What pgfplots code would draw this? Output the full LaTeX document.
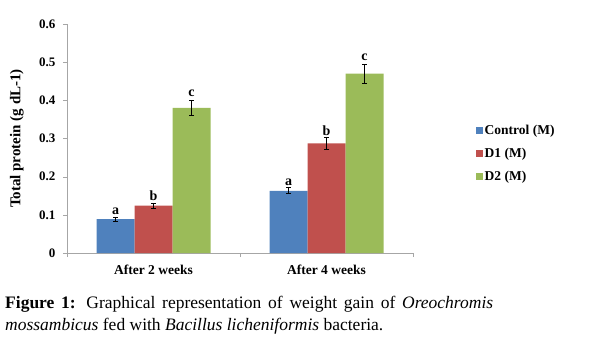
\documentclass[border=0pt]{standalone}
\usepackage{fontspec}
\setmainfont{Liberation Serif}
\usepackage{pgfplots}
\pgfplotsset{compat=1.18}
\definecolor{cblue}{HTML}{4F81BD}
\definecolor{cred}{HTML}{C0504D}
\definecolor{cgreen}{HTML}{9BBB59}
\definecolor{axgray}{HTML}{A6A6A6}
\begin{document}
\begin{tikzpicture}[x=1pt,y=1pt]
\useasboundingbox (0,0) rectangle (610,357);
\begin{axis}[
  at={(67pt,104pt)}, anchor=south west,
  scale only axis, width=346pt, height=229pt,
  xmin=-0.5, xmax=1.5, ymin=0, ymax=0.6,
  ybar, bar width=38pt,
  axis x line*=bottom, axis y line*=left,
  axis line style={axgray},
  xtick={0,1}, xticklabels={After 2 weeks, After 4 weeks},
  major x tick style={draw=none},
  minor xtick={-0.5,0.5,1.5},
  minor x tick style={axgray},
  ytick={0,0.1,0.2,0.3,0.4,0.5,0.6},
  yticklabels={0,0.1,0.2,0.3,0.4,0.5,0.6},
  ytick style={axgray},
  tick align=outside, major tick length=4pt, minor tick length=4pt,
  ytick pos=left,
  yticklabel style={xshift=-4pt, font=\fontsize{13}{15}\selectfont\bfseries},
  xticklabel style={yshift=-4pt, font=\fontsize{13.5}{15}\selectfont\bfseries},
  ylabel={Total protein (g dL-1)},
  ylabel style={at={(axis description cs:-0.145,0.5)}, anchor=center, font=\fontsize{15}{17}\selectfont\bfseries},
  legend style={at={(axis description cs:1.182,0.567)}, anchor=north west, draw=none, fill=none,
    font=\fontsize{13.5}{15}\selectfont\bfseries, row sep=8pt, inner sep=0pt,
    /tikz/every even column/.append style={column sep=0pt}},
  legend cell align=left,
  legend image code/.code={\fill[#1] (0pt,-3pt) rectangle (6.5pt,3.5pt);},
  error bars/y dir=both, error bars/y explicit,
  error bars/error bar style={black, line width=0.8pt},
  error bars/error mark options={rotate=90, mark size=2.5pt, black, line width=0.8pt},
]
\addplot[fill=cblue, draw=none, bar shift=-38pt] coordinates {(0,0.089) +- (0,0.005) (1,0.163) +- (0,0.008)};
\addlegendentry{Control (M)}
\addplot[fill=cred, draw=none, bar shift=0pt] coordinates {(0,0.124) +- (0,0.007) (1,0.287) +- (0,0.015)};
\addlegendentry{D1 (M)}
\addplot[fill=cgreen, draw=none, bar shift=38pt] coordinates {(0,0.380) +- (0,0.020) (1,0.470) +- (0,0.025)};
\addlegendentry{D2 (M)}
\begin{scope}[every node/.style={font=\fontsize{14}{16}\selectfont\bfseries, anchor=south, inner sep=0pt}]
\node[xshift=-38pt] at (axis cs:0,0.099) {a};
\node at (axis cs:0,0.136) {b};
\node[xshift=38pt] at (axis cs:0,0.408) {c};
\node[xshift=-38pt] at (axis cs:1,0.176) {a};
\node at (axis cs:1,0.308) {b};
\node[xshift=38pt] at (axis cs:1,0.503) {c};
\end{scope}
\end{axis}
\node[anchor=north west, inner sep=0pt, text width=488pt, align=justify,
  font=\fontsize{17.5}{22}\selectfont] at (5,61)
  {\textbf{Figure 1:} Graphical representation of weight gain of \textit{Oreochromis}\linebreak
   \textit{mossambicus} fed with \textit{Bacillus licheniformis} bacteria.};
\end{tikzpicture}
\end{document}
